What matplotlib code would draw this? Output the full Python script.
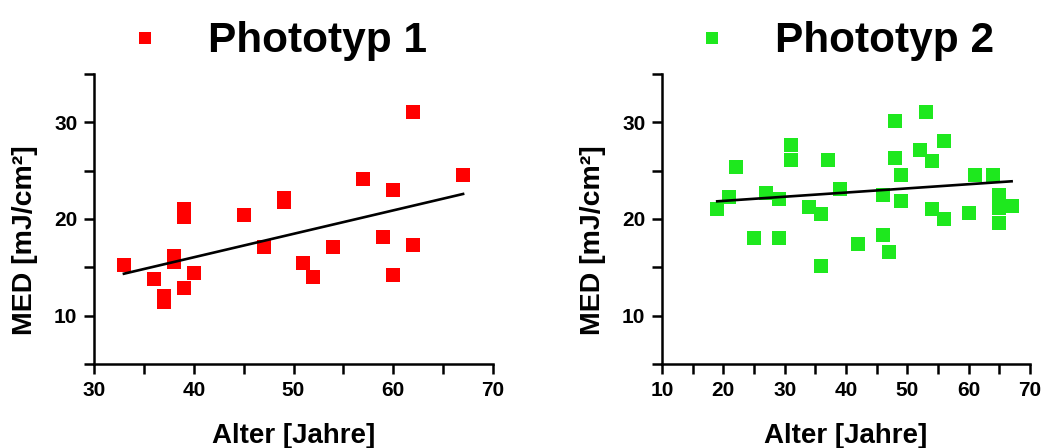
import matplotlib
matplotlib.use("Agg")
import matplotlib.pyplot as plt
from matplotlib.ticker import MultipleLocator
from matplotlib.lines import Line2D

plt.rcParams['font.family'] = ['Liberation Sans', 'DejaVu Sans']
plt.rcParams['font.weight'] = 'bold'

# ---- data: Phototyp 1 ----
age1 = [33, 36, 37, 37, 38, 38, 39, 39, 39, 40, 45, 47, 49, 49, 51, 52, 54, 57, 59, 60, 60, 62, 62, 67]
med1 = [15.2, 13.8, 12.0, 11.4, 16.2, 15.6, 21.0, 20.2, 12.9, 14.4, 20.4, 17.1, 22.2, 21.8, 15.4, 14.0,
        17.1, 24.1, 18.1, 23.0, 14.2, 17.3, 31.1, 24.5]
fit1_x = [33, 67]
fit1_y = [14.34, 22.59]

# ---- data: Phototyp 2 ----
age2 = [19, 21, 22, 25, 27, 29, 29, 31, 31, 34, 36, 36, 37, 39, 42, 46, 46, 47, 48, 48, 49, 49,
        52, 53, 54, 54, 56, 56, 60, 61, 64, 65, 65, 65, 67]
med2 = [21.0, 22.3, 25.4, 18.0, 22.7, 22.1, 18.0, 27.7, 26.1, 21.2, 20.5, 15.1, 26.1, 23.1, 17.4,
        22.5, 18.3, 16.6, 30.1, 26.3, 24.5, 21.9, 27.1, 31.1, 26.0, 21.0, 28.1, 20.0, 20.6, 24.6,
        24.6, 22.5, 21.1, 19.6, 21.3]
fit2_x = [19, 67]
fit2_y = [21.83, 23.9]

titles = ["Phototyp 1", "Phototyp 2"]
colors = ["#ff0000", "#1ee81e"]
xlims = [(30, 70), (10, 70)]
xlabel = "Alter [Jahre]"
ylabel = "MED [mJ/cm²]"

W, H = 1054, 448
fig = plt.figure(figsize=(W / 100, H / 100), dpi=100)

boxes = [(94, 493), (662, 1030)]
top_px, bot_px = 74, 364
ax_list = []
for (l, r) in boxes:
    ax = fig.add_axes([l / W, 1 - bot_px / H, (r - l) / W, (bot_px - top_px) / H])
    ax_list.append(ax)

datasets = [(age1, med1, fit1_x, fit1_y), (age2, med2, fit2_x, fit2_y)]
for i, ax in enumerate(ax_list):
    x, y, fx, fy = datasets[i]
    l, r = boxes[i]
    ax.plot(x, y, linestyle='none', marker='s', markersize=10, color=colors[i], markeredgewidth=0, zorder=3)
    ax.plot(fx, fy, color='black', linewidth=1.9, zorder=4)
    ax.set_xlim(*xlims[i])
    ax.set_ylim(5, 35)
    for s in ['top', 'right']:
        ax.spines[s].set_visible(False)
    for s in ['left', 'bottom']:
        ax.spines[s].set_linewidth(1.8)
    ax.xaxis.set_major_locator(MultipleLocator(10))
    ax.xaxis.set_minor_locator(MultipleLocator(5))
    ax.yaxis.set_major_locator(MultipleLocator(10))
    ax.yaxis.set_minor_locator(MultipleLocator(5))
    ax.tick_params(which='both', direction='out', length=7, width=1.8, labelsize=15, pad=5)
    for lab in ax.get_xticklabels() + ax.get_yticklabels():
        lab.set_fontweight('bold')
    ax.set_xlabel(xlabel, fontsize=20, fontweight='bold', labelpad=17)
    ax.set_ylabel(ylabel, fontsize=20.5, fontweight='bold')
    ax.yaxis.label.set_verticalalignment('center')
    ax.yaxis.set_label_coords(-69 / (r - l), (bot_px - 240) / (bot_px - top_px))
    ax.set_facecolor('none')

# titles as legend-like headers
title_pos = [(145, 208), (712, 775)]
for i, (mx, tx) in enumerate(title_pos):
    fig.add_artist(Line2D([mx / W], [1 - 38 / H], marker='s', markersize=8.5, color=colors[i],
                          markeredgewidth=0, linestyle='none', transform=fig.transFigure))
    fig.text(tx / W, 1 - 52 / H, titles[i], fontsize=30.5, fontweight='bold', ha='left', va='baseline')

fig.savefig("out.png", dpi=100, facecolor='white')
